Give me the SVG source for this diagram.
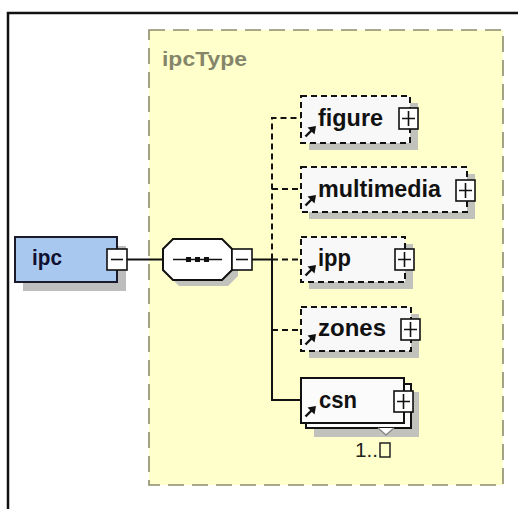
<svg xmlns="http://www.w3.org/2000/svg" width="518" height="509" viewBox="0 0 518 509">
<style>
.lbl{font-family:"Liberation Sans",Arial,sans-serif;font-weight:bold;font-size:24px;fill:#111111}
.shadow{fill:#c2c2bc}
.opt{fill:#f8f8f8;stroke:#111111;stroke-width:2;stroke-dasharray:6 4}
.req{fill:#fbfbfb;stroke:#111111;stroke-width:2}
.btn{fill:#ffffff;stroke:#111111;stroke-width:1.6}
.dl{fill:none;stroke:#111111;stroke-width:2;stroke-dasharray:6 4}
.sl{fill:none;stroke:#111111;stroke-width:2}
</style>
<defs>
<g id="plus">
<rect class="btn" x="0" y="0" width="19" height="21"/>
<path d="M3 10.5H16M9.5 3V18" stroke="#111111" stroke-width="1.6"/>
</g>
<g id="minus">
<rect class="btn" x="0" y="0" width="20" height="21"/>
<path d="M4 10.5H16" stroke="#111111" stroke-width="1.6"/>
</g>
<g id="arr">
<path d="M4.5 -6.5L11 -13" stroke="#111111" stroke-width="2.4"/>
<polygon points="15,-17 6.5,-15.5 13.5,-8.5" fill="#111111"/>
</g>
</defs>

<rect x="8" y="13" width="520" height="510" fill="#ffffff" stroke="#111111" stroke-width="2.5"/>

<g id="ipcType">
<rect x="149" y="30" width="354" height="455" fill="#ffffcc" stroke="#8c8c6c" stroke-width="1.6" stroke-dasharray="16 8"/>
<text x="162" y="66" font-family="Liberation Sans,Arial,sans-serif" font-weight="bold" font-size="20" fill="#85856a" textLength="85" lengthAdjust="spacingAndGlyphs">ipcType</text>
</g>

<g id="connectors">
<path class="sl" d="M127 259.5H163"/>
<path class="sl" d="M252 259.5H272V400H301"/>
<path class="dl" d="M272 259.5V118H301"/>
<path class="dl" d="M272 189H301"/>
<path class="dl" d="M272 259.5H301"/>
<path class="dl" d="M272 330H301"/>
</g>

<g id="ipc">
<rect x="23" y="246" width="103" height="45" fill="#bdbdbd"/>
<rect x="15" y="237" width="102" height="45" fill="#a9c8f0" stroke="#1a1a2a" stroke-width="2"/>
<text x="32" y="265" font-family="Liberation Sans,Arial,sans-serif" font-weight="bold" font-size="22" fill="#101030" textLength="30" lengthAdjust="spacingAndGlyphs">ipc</text>
<use href="#minus" x="107" y="249"/>
</g>

<g id="sequence">
<polygon class="shadow" points="179,245 228,245 238,255 238,276 228,286 179,286 169,276 169,255"/>
<polygon points="173,239 222,239 232,249 232,270 222,280 173,280 163,270 163,249" fill="#ffffff" stroke="#111111" stroke-width="2"/>
<path d="M173 259.5H222" stroke="#111111" stroke-width="1.6"/>
<rect x="186" y="257" width="5" height="5" fill="#111111"/>
<rect x="195" y="257" width="5" height="5" fill="#111111"/>
<rect x="204" y="257" width="5" height="5" fill="#111111"/>
<use href="#minus" x="232" y="249"/>
</g>

<g id="figure">
<rect class="shadow" x="309" y="103" width="109" height="47"/>
<rect class="opt" x="301" y="96" width="109" height="47"/>
<text class="lbl" x="318" y="126" textLength="65" lengthAdjust="spacingAndGlyphs">figure</text>
<use href="#plus" x="399" y="108"/>
<use href="#arr" x="301" y="143"/>
</g>

<g id="multimedia">
<rect class="shadow" x="309" y="174" width="166" height="45"/>
<rect class="opt" x="301" y="167" width="166" height="45"/>
<text class="lbl" x="318" y="197" textLength="123" lengthAdjust="spacingAndGlyphs">multimedia</text>
<use href="#plus" x="456" y="180"/>
<use href="#arr" x="301" y="212"/>
</g>

<g id="ipp">
<rect class="shadow" x="309" y="244" width="104" height="45"/>
<rect class="opt" x="301" y="237" width="104" height="45"/>
<text class="lbl" x="318" y="266" textLength="33" lengthAdjust="spacingAndGlyphs">ipp</text>
<use href="#plus" x="395" y="249"/>
<use href="#arr" x="301" y="282"/>
</g>

<g id="zones">
<rect class="shadow" x="309" y="314" width="110" height="44"/>
<rect class="opt" x="301" y="307" width="110" height="44"/>
<text class="lbl" x="318" y="336" textLength="68" lengthAdjust="spacingAndGlyphs">zones</text>
<use href="#plus" x="401" y="319"/>
<use href="#arr" x="301" y="351"/>
</g>

<g id="csn">
<rect class="shadow" x="314" y="392" width="105" height="45"/>
<rect class="req" x="306" y="384" width="105" height="44"/>
<polyline points="378,428 386,435 394,428" fill="#ffffff" stroke="#8a8a8a" stroke-width="1.5"/>
<rect class="req" x="301" y="378" width="103" height="45"/>
<text class="lbl" x="319" y="408" textLength="38" lengthAdjust="spacingAndGlyphs">csn</text>
<use href="#plus" x="394" y="391"/>
<use href="#arr" x="301" y="423"/>
<text x="355" y="457" font-family="Liberation Sans,Arial,sans-serif" font-size="21" fill="#222222" textLength="23" lengthAdjust="spacingAndGlyphs">1..</text>
<rect x="380" y="443" width="10" height="14" fill="none" stroke="#222222" stroke-width="1.5"/>
</g>
</svg>
